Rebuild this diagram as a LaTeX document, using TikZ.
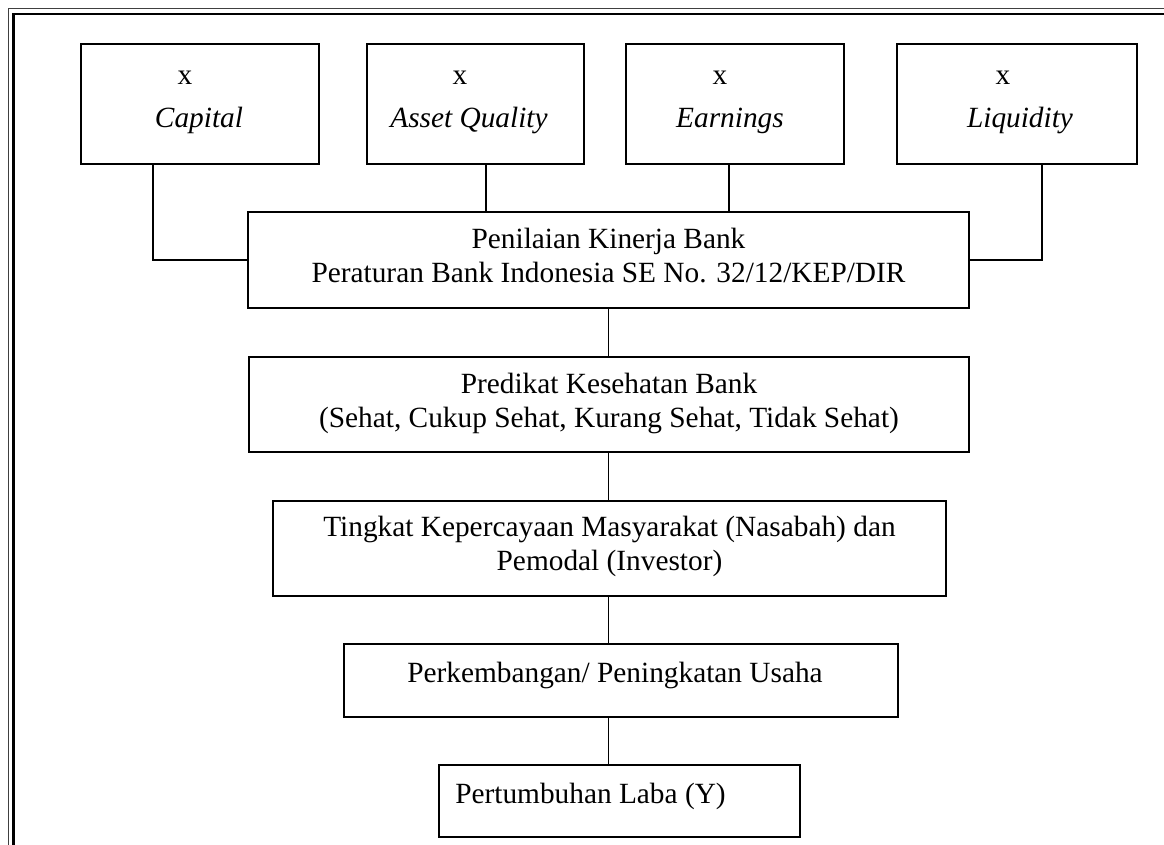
\documentclass[tikz,border=0pt]{standalone}
\usepackage{fontspec}
\setmainfont{Liberation Serif}
\usetikzlibrary{fit,calc}
\begin{document}
\begin{tikzpicture}[x=0.75pt,y=-0.75pt,
  box/.style={draw, line width=1.4pt, inner sep=0pt},
  conn/.style={line width=1.4pt},
  lbl/.style={font=\fontsize{22}{26}\selectfont, inner sep=0pt, anchor=base},
  ilbl/.style={font=\fontsize{22}{26}\selectfont\itshape, inner sep=0pt, anchor=base}]
\useasboundingbox (0,0) rectangle (1164,845);
% page frame (double rule)
\draw[line width=1.1pt, black!75] (1164,8.5) -- (8.5,8.5) -- (8.5,845);
\draw[line width=1.9pt] (1164,14) -- (13.5,14) -- (13.5,845);

% top row
\node[box, fit={(81,44) (319,164)}] (capital) {};
\node[box, fit={(367,44) (584,164)}] (asset) {};
\node[box, fit={(626,44) (844,164)}] (earnings) {};
\node[box, fit={(897,44) (1137,164)}] (liquidity) {};
\node[lbl] (capx) at (185,85) {x};
\node[ilbl] (capt) at (199,128) {Capital};
\node[lbl] (assx) at (460,85) {x};
\node[ilbl] (asst) at (469,128) {Asset Quality};
\node[lbl] (earx) at (720,85) {x};
\node[ilbl] (eart) at (730,128) {Earnings};
\node[lbl] (liqx) at (1003,85) {x};
\node[ilbl] (liqt) at (1020,128) {Liquidity};

% chain
\node[box, fit={(248,212) (969,308)}] (penilaian) {};
\node[lbl] (pen1) at (608.5,248) {Penilaian Kinerja Bank};
\node[lbl] (pen2) at (608.5,282) {Peraturan Bank Indonesia SE No. 32/12/KEP/DIR};

\node[box, fit={(249,357) (969,452)}] (predikat) {};
\node[lbl] (pre1) at (609,393) {Predikat Kesehatan Bank};
\node[lbl] (pre2) at (609,427) {(Sehat, Cukup Sehat, Kurang Sehat, Tidak Sehat)};

\node[box, fit={(273,501) (946,596)}] (tingkat) {};
\node[lbl] (tin1) at (609.5,536) {Tingkat Kepercayaan Masyarakat (Nasabah) dan};
\node[lbl] (tin2) at (609.5,570) {Pemodal (Investor)};

\node[box, fit={(344,644) (898,717)}] (perkembangan) {};
\node[lbl] (per1) at (615,682) {Perkembangan/ Peningkatan Usaha};

\node[box, fit={(439,765) (800,837)}] (pertumbuhan) {};
\node[lbl, anchor=base west] (pert1) at (455,803) {Pertumbuhan Laba (Y)};

% connectors
\coordinate (cc) at ($(capital.south west)!0.3025!(capital.south east)$);
\coordinate (ca) at ($(asset.south west)!0.548!(asset.south east)$);
\coordinate (ce) at ($(earnings.south west)!0.472!(earnings.south east)$);
\coordinate (cl) at ($(liquidity.south west)!0.604!(liquidity.south east)$);
\draw[conn] (cc) |- (penilaian.west);
\draw[conn] (ca) -- (ca |- penilaian.north);
\draw[conn] (ce) -- (ce |- penilaian.north);
\draw[conn] (cl) |- (penilaian.east);
\draw[conn] (penilaian.south) -- (penilaian.south |- predikat.north);
\draw[conn] (penilaian.south |- predikat.south) -- (penilaian.south |- tingkat.north);
\draw[conn] (penilaian.south |- tingkat.south) -- (penilaian.south |- perkembangan.north);
\draw[conn] (penilaian.south |- perkembangan.south) -- (penilaian.south |- pertumbuhan.north);
\end{tikzpicture}
\end{document}
